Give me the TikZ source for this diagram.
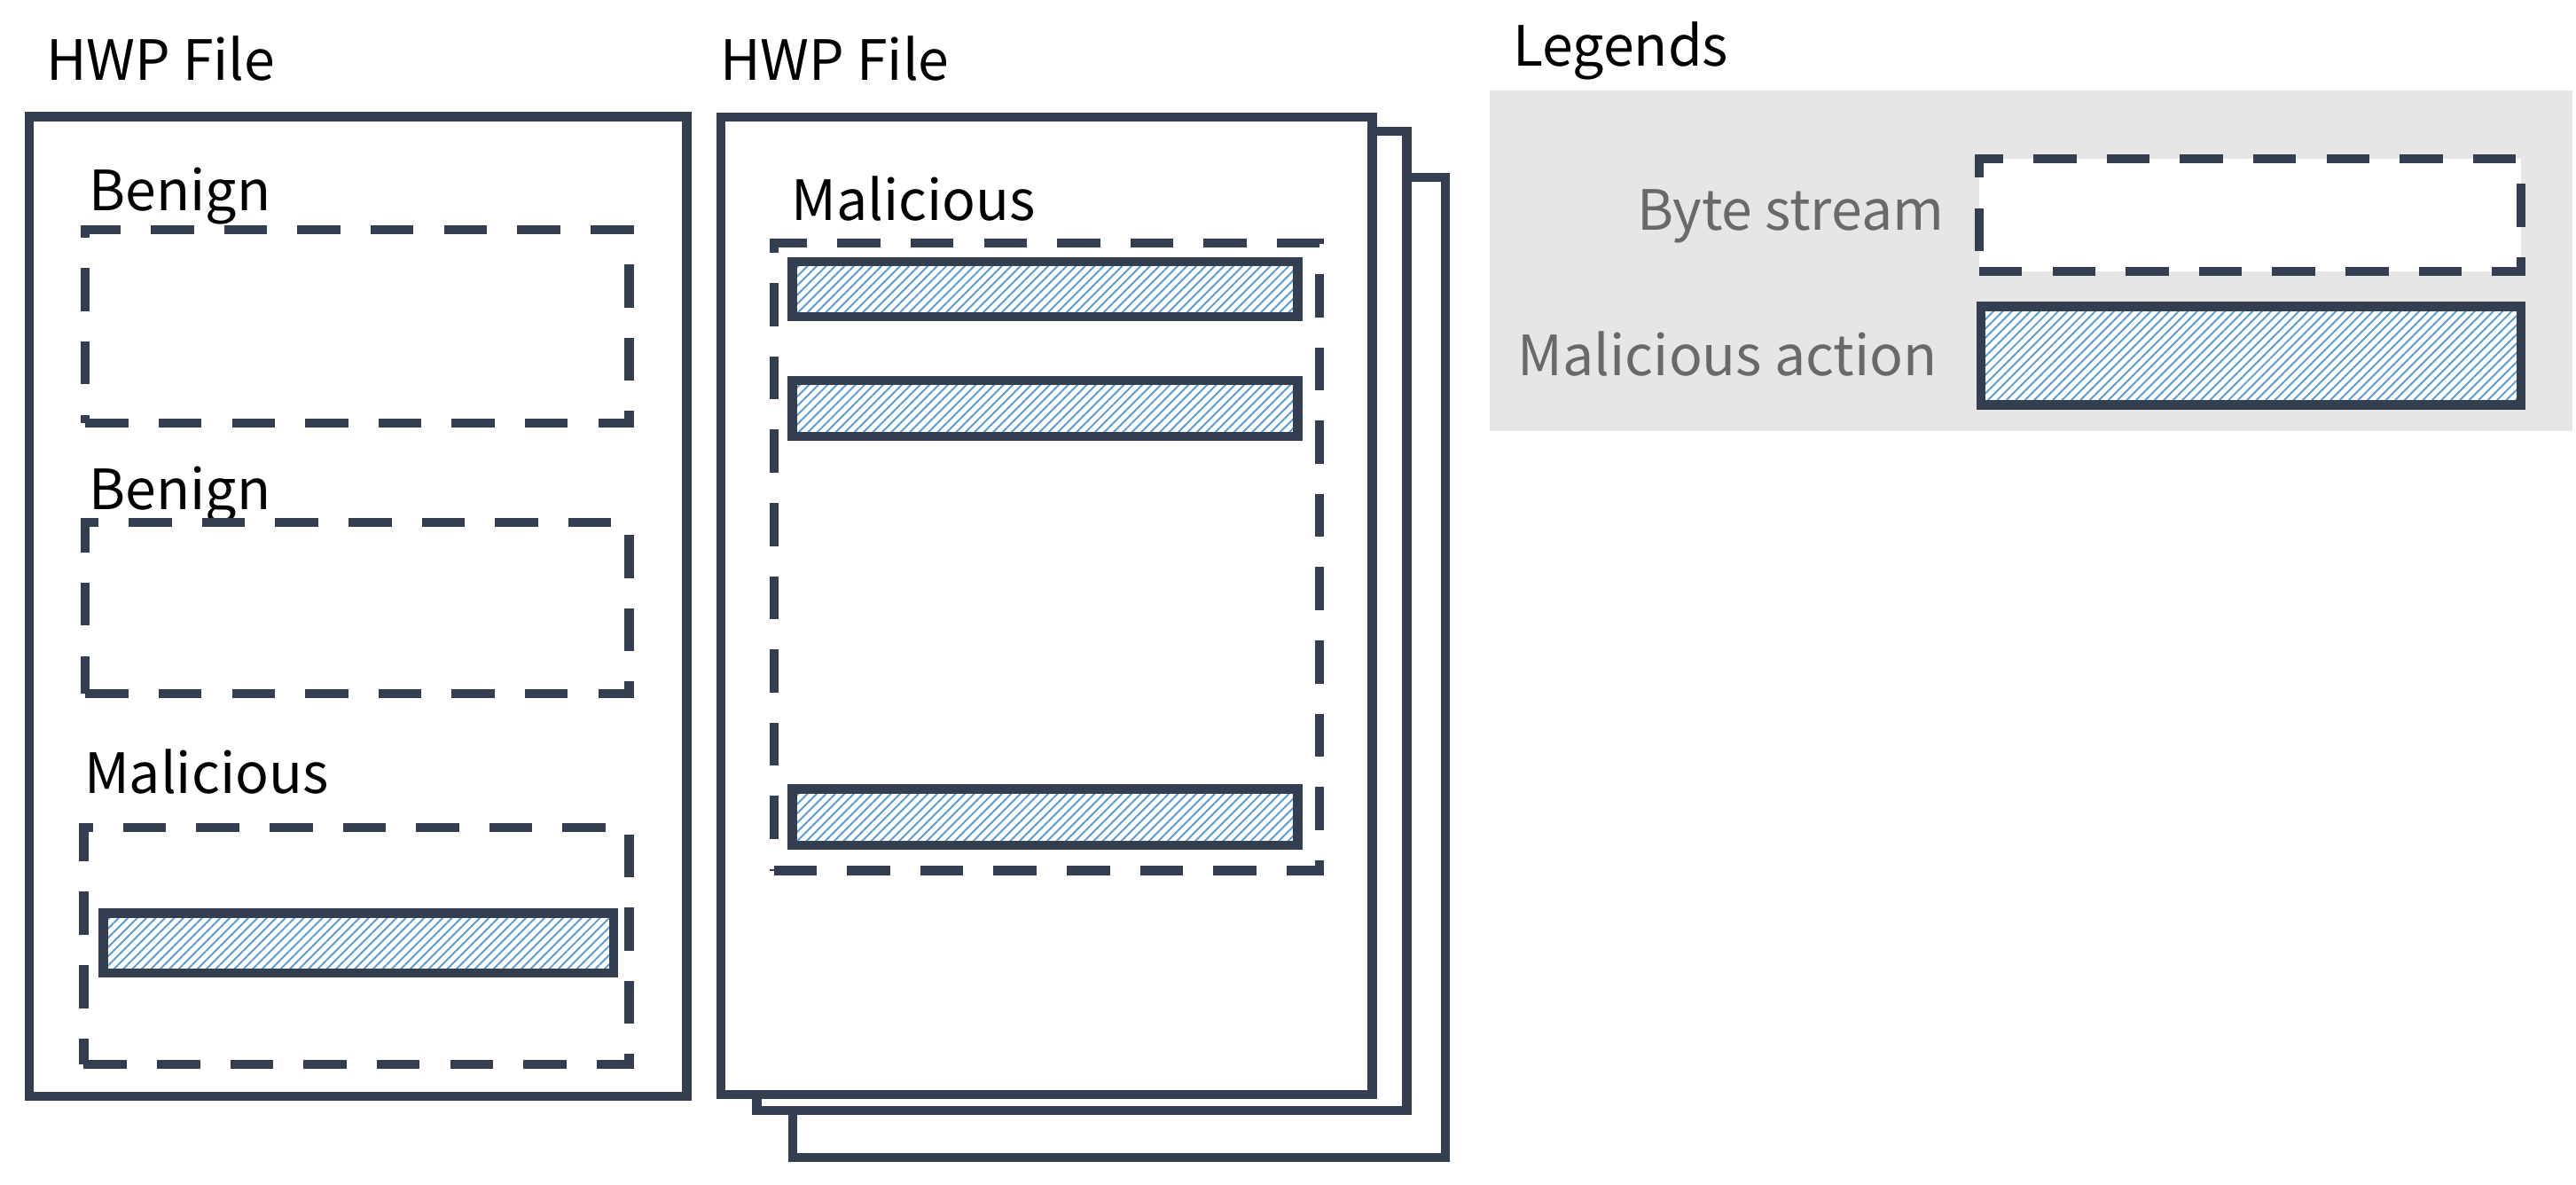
\documentclass[tikz,border=0pt]{standalone}
\usepackage{fontspec}
\setmainfont{Noto Sans CJK KR}
\usetikzlibrary{patterns.meta,fit}
\definecolor{dark}{RGB}{51,63,80}
\definecolor{hatch}{RGB}{91,155,213}
\definecolor{legbg}{RGB}{231,230,230}
\definecolor{legtext}{RGB}{105,105,105}
\tikzset{
  page/.style={draw=dark, line width=2.9pt, fill=white, inner sep=0pt},
  dbox/.style={draw=dark, line width=2.9pt, dash pattern=on 13.8pt off 9.7pt, inner sep=0pt},
  mbar/.style={draw=dark, line width=3pt, inner sep=0pt, preaction={fill=white},
    pattern={Lines[angle=45,distance=2.1pt,line width=0.55pt]}, pattern color=hatch},
  lbl/.style={anchor=base west, inner sep=0pt, font=\fontsize{17.8}{20}\selectfont},
  leglbl/.style={anchor=base east, inner sep=0pt, text=legtext, font=\fontsize{17.8}{20}\selectfont},
  legbox/.style={fill=legbg, inner sep=0pt}
}
\begin{document}
\begin{tikzpicture}[x=0.018527cm, y=-0.018527cm]
\useasboundingbox (0,0) rectangle (1568,721);
% left file
\node[lbl] (t1) at (27.7,48.6) {HWP File};
\node[page, fit={(18,71)(418,667)}] (f1) {};
\node[lbl] (bn1) at (54,128) {Benign};
\node[dbox, fit={(52,140)(383,257.4)}] (s1) {};
\node[lbl] (bn2) at (54,310) {Benign};
\node[dbox, fit={(52,318)(383,422)}] (s2) {};
\node[lbl] (ml1) at (51,482.6) {Malicious};
\node[dbox, fit={(51,503.6)(383,647.7)}] (s3) {};
\node[mbar, fit={(63,555.7)(373.5,592)}] (a1) {};
% middle file stack
\node[lbl] (t2) at (438,48.6) {HWP File};
\node[page, fit={(482.4,108)(880,704.5)}] (p3) {};
\node[page, fit={(460.7,80)(856.3,675.8)}] (p2) {};
\node[page, fit={(438.8,71.3)(835.3,666)}] (p1) {};
\node[lbl] (ml2) at (481.5,134) {Malicious};
\node[dbox, fit={(471,148)(803,529.8)}] (s4) {};
\node[mbar, fit={(482.4,159.2)(790,192.8)}] (a2) {};
\node[mbar, fit={(482.4,231.6)(790,265.6)}] (a3) {};
\node[mbar, fit={(482.4,480)(790,514.4)}] (a4) {};
% legend
\node[lbl] (lg) at (920.8,40) {Legends};
\node[legbox, fit={(907,55)(1566,262.3)}] (lgbg) {};
\node[leglbl] (lb1) at (1183.7,140.3) {Byte stream};
\node[dbox, fill=white, fit={(1204.7,96.6)(1534.5,165)}] (ls) {};
\node[leglbl] (lb2) at (1179.5,228.5) {Malicious action};
\node[mbar, fit={(1205.8,186.6)(1534.5,246.5)}] (la) {};
\end{tikzpicture}
\end{document}
